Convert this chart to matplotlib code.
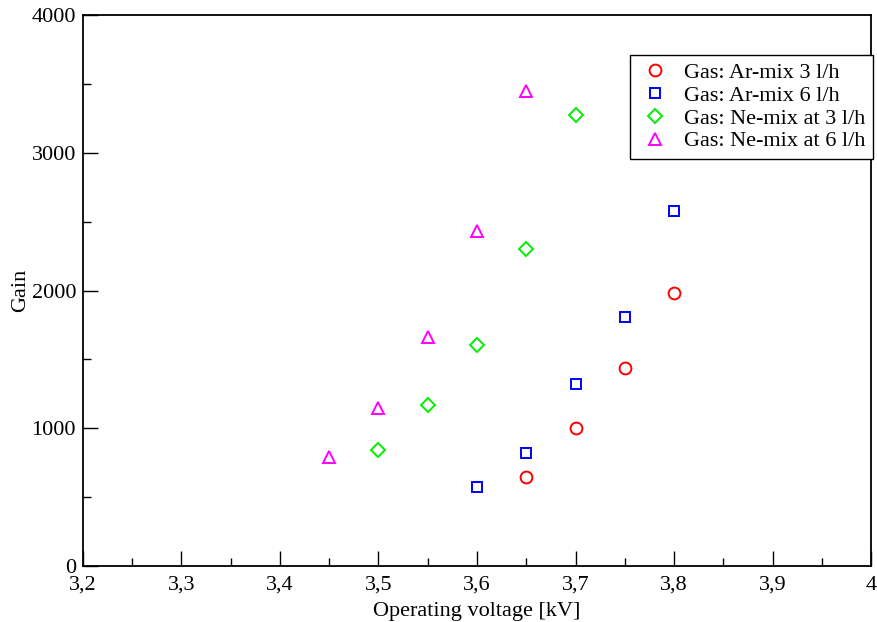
import matplotlib
matplotlib.use("Agg")
import matplotlib.pyplot as plt
from matplotlib.ticker import MultipleLocator, FuncFormatter

plt.rcParams['font.family'] = ['Liberation Serif', 'DejaVu Serif']

ar3_x = [3.65, 3.70, 3.75, 3.80]
ar3_y = [646, 1002, 1441, 1982]
ar6_x = [3.60, 3.65, 3.70, 3.75, 3.80]
ar6_y = [573, 820, 1321, 1808, 2577]
ne3_x = [3.50, 3.55, 3.60, 3.65, 3.70]
ne3_y = [842, 1169, 1604, 2301, 3274]
ne6_x = [3.45, 3.50, 3.55, 3.60, 3.65]
ne6_y = [791, 1150, 1662, 2435, 3445]

fig = plt.figure(figsize=(8.77, 6.22), dpi=100)
ax = fig.add_axes([0.0946, 0.090, 0.8986, 0.8859])

kw = dict(linestyle='none', markerfacecolor='none', markeredgewidth=1.4)
ax.plot(ar3_x, ar3_y, marker='o', color='#ff0000', markersize=8.5, label='Gas: Ar-mix 3 l/h', **kw)
ax.plot(ar6_x, ar6_y, marker='s', color='#0000ff', markersize=7.5, label='Gas: Ar-mix 6 l/h', **kw)
ax.plot(ne3_x, ne3_y, marker='D', color='#00ee00', markersize=7, label='Gas: Ne-mix at 3 l/h', **kw)
ax.plot(ne6_x, ne6_y, marker='^', color='#ff00ff', markersize=8.5, label='Gas: Ne-mix at 6 l/h', **kw)

ax.set_xlim(3.2, 4.0)
ax.set_ylim(0, 4000)
ax.xaxis.set_major_locator(MultipleLocator(0.1))
ax.xaxis.set_minor_locator(MultipleLocator(0.05))
ax.yaxis.set_major_locator(MultipleLocator(1000))
ax.yaxis.set_minor_locator(MultipleLocator(500))

def comma(v, pos):
    s = ('%.1f' % v).rstrip('0').rstrip('.')
    return s.replace('.', ',')

ax.xaxis.set_major_formatter(FuncFormatter(comma))
ax.tick_params(which='both', direction='in', labelsize=16, width=1)
ax.tick_params(axis='y', pad=5)
ax.tick_params(axis='x', pad=7)
ax.tick_params(which='major', length=11)
ax.tick_params(which='minor', length=5.5)
for sp in ax.spines.values():
    sp.set_linewidth(1.3)

ax.set_xlabel('Operating voltage [kV]', fontsize=16, labelpad=5)
ax.set_ylabel('Gain', fontsize=16, labelpad=1)

leg = ax.legend(loc='upper right', bbox_to_anchor=(1.003, 0.928), fontsize=16, fancybox=False,
                framealpha=1, edgecolor='black', borderpad=0.35, labelspacing=0.1,
                handletextpad=0.5, handlelength=1.6, borderaxespad=0)
leg.get_frame().set_linewidth(1)

fig.savefig('out.png', dpi=100)
